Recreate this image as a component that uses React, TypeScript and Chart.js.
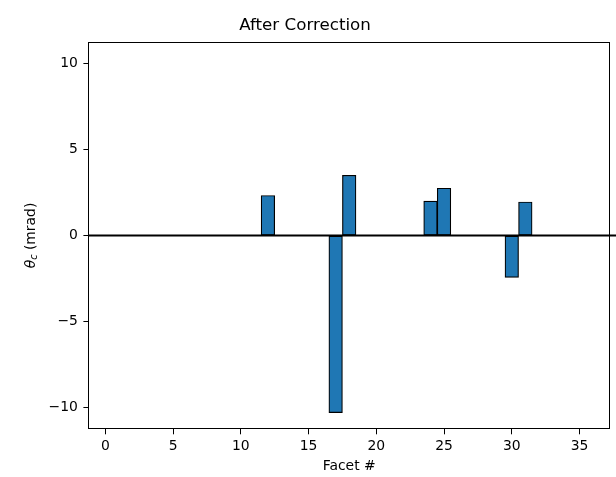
import React, { useEffect, useRef } from "react";
import { Chart, registerables } from "chart.js";

Chart.register(...registerables);

// ---- data ----
const facets: number[] = [
  1, 2, 3, 4, 5, 6, 7, 8, 9, 10, 11, 12, 13, 14, 15, 16, 17, 18, 19, 20,
  21, 22, 23, 24, 25, 26, 27, 28, 29, 30, 31, 32, 33, 34, 35,
];
const thetaC: number[] = [
  0, 0, 0, 0, 0, 0, 0, 0, 0, 0, 0, 2.33, 0, 0, 0, 0, -10.3, 3.5, 0, 0,
  0, 0, 0, 2.0, 2.75, 0, 0, 0, 0, -2.43, 1.95, 0, 0, 0, 0,
];
const xTicks: number[] = [0, 5, 10, 15, 20, 25, 30, 35];
const yTicks: number[] = [-10, -5, 0, 5, 10];
const xRange: number[] = [-1.25, 37.25];
const yRange: number[] = [-11.27, 11.27];
const zeroLineX: number[] = [-1.25, 45];

const TITLE = "After Correction";
const XLABEL = "Facet #";

const FONT = '"DejaVu Sans", sans-serif';
const TICK_SIZE = 13.9;

const fmt = (v: number) => String(v).replace("-", "\u2212");

const framePlugin = {
  id: "frame",
  afterDraw(chart: any) {
    const { ctx, chartArea } = chart;
    ctx.save();
    ctx.strokeStyle = "#000";
    ctx.lineWidth = 1;
    const l = Math.round(chartArea.left) + 0.5;
    const t = Math.round(chartArea.top) + 0.5;
    const r = Math.round(chartArea.right) - 0.5;
    const b = Math.round(chartArea.bottom) - 0.5;
    ctx.strokeRect(l, t, r - l, b - t);
    ctx.restore();
  },
};

const ylabelPlugin = {
  id: "ylabel",
  afterDraw(chart: any) {
    const { ctx, chartArea } = chart;
    const cy = (chartArea.top + chartArea.bottom) / 2;
    const f = TICK_SIZE;
    const italic = `italic ${f}px ${FONT}`;
    const sub = `italic ${(f * 0.7).toFixed(2)}px ${FONT}`;
    const reg = `${f}px ${FONT}`;
    ctx.save();
    ctx.translate(31, cy);
    ctx.rotate(-Math.PI / 2);
    ctx.fillStyle = "#000";
    ctx.textBaseline = "alphabetic";
    ctx.textAlign = "left";
    ctx.font = italic;
    const w1 = ctx.measureText("\u03B8").width;
    ctx.font = sub;
    const w2 = ctx.measureText("c").width;
    ctx.font = reg;
    const w3 = ctx.measureText(" (mrad)").width;
    const total = w1 + w2 + w3;
    let x = -total / 2;
    const base = 3.8;
    ctx.font = italic;
    ctx.fillText("\u03B8", x, base);
    x += w1;
    ctx.font = sub;
    ctx.fillText("c", x, base + 2.6);
    x += w2;
    ctx.font = reg;
    ctx.fillText(" (mrad)", x, base);
    ctx.restore();
  },
};

export default function App() {
  const ref = useRef<HTMLCanvasElement>(null);

  useEffect(() => {
    if (!ref.current) return;
    const chart = new Chart(ref.current, {
      type: "bar",
      data: {
        datasets: [
          {
            type: "line",
            data: zeroLineX.map((x) => ({ x, y: 0 })),
            borderColor: "#000",
            borderWidth: 1.9,
            pointRadius: 0,
            clip: false as any,
            order: 0,
          } as any,
          {
            type: "bar",
            data: facets.map((f, i) => ({ x: f, y: thetaC[i] })),
            backgroundColor: "#1f77b4",
            borderColor: "#000",
            borderWidth: 1.2,
            borderSkipped: false,
            barPercentage: 1,
            categoryPercentage: 1,
            order: 1,
          } as any,
        ],
      },
      options: {
        animation: false,
        responsive: false,
        events: [],
        layout: { padding: { left: 0, right: 6, top: 0, bottom: 0 } },
        plugins: {
          legend: { display: false },
          tooltip: { enabled: false },
          title: {
            display: true,
            text: TITLE,
            color: "#000",
            font: { family: FONT, size: 16.7, weight: "normal" as any },
            padding: { top: 15.5, bottom: 6.2 },
          },
        },
        scales: {
          x: {
            type: "linear",
            offset: false,
            min: xRange[0],
            max: xRange[1],
            afterBuildTicks: (s: any) => {
              s.ticks = xTicks.map((v) => ({ value: v }));
            },
            afterFit: (s: any) => {
              s.height = 47.7;
            },
            grid: {
              display: true,
              offset: false,
              drawOnChartArea: false,
              drawTicks: true,
              tickLength: 5,
              color: "#000",
              lineWidth: 1,
            },
            border: { display: false },
            ticks: {
              color: "#000",
              font: { family: FONT, size: TICK_SIZE },
              padding: 3.4,
              maxRotation: 0,
              autoSkip: false,
              callback: (v: any) => fmt(v),
            },
            title: {
              display: true,
              text: XLABEL,
              color: "#000",
              font: { family: FONT, size: TICK_SIZE },
              padding: { top: 0, bottom: 2.7 },
            },
          },
          y: {
            type: "linear",
            min: yRange[0],
            max: yRange[1],
            afterBuildTicks: (s: any) => {
              s.ticks = yTicks.map((v) => ({ value: v }));
            },
            afterFit: (s: any) => {
              s.width = 88.4;
            },
            grid: {
              display: true,
              drawOnChartArea: false,
              drawTicks: true,
              tickLength: 5,
              color: "#000",
              lineWidth: 1,
            },
            border: { display: false },
            ticks: {
              color: "#000",
              font: { family: FONT, size: TICK_SIZE },
              padding: 5.5,
              autoSkip: false,
              callback: (v: any) => fmt(v),
            },
          },
        },
      },
      plugins: [framePlugin, ylabelPlugin],
    });
    return () => chart.destroy();
  }, []);

  return (
    <div style={{ position: "absolute", left: 0, top: 0, width: 616, height: 477, background: "#fff" }}>
      <canvas ref={ref} width={616} height={477} style={{ display: "block" }} />
    </div>
  );
}
